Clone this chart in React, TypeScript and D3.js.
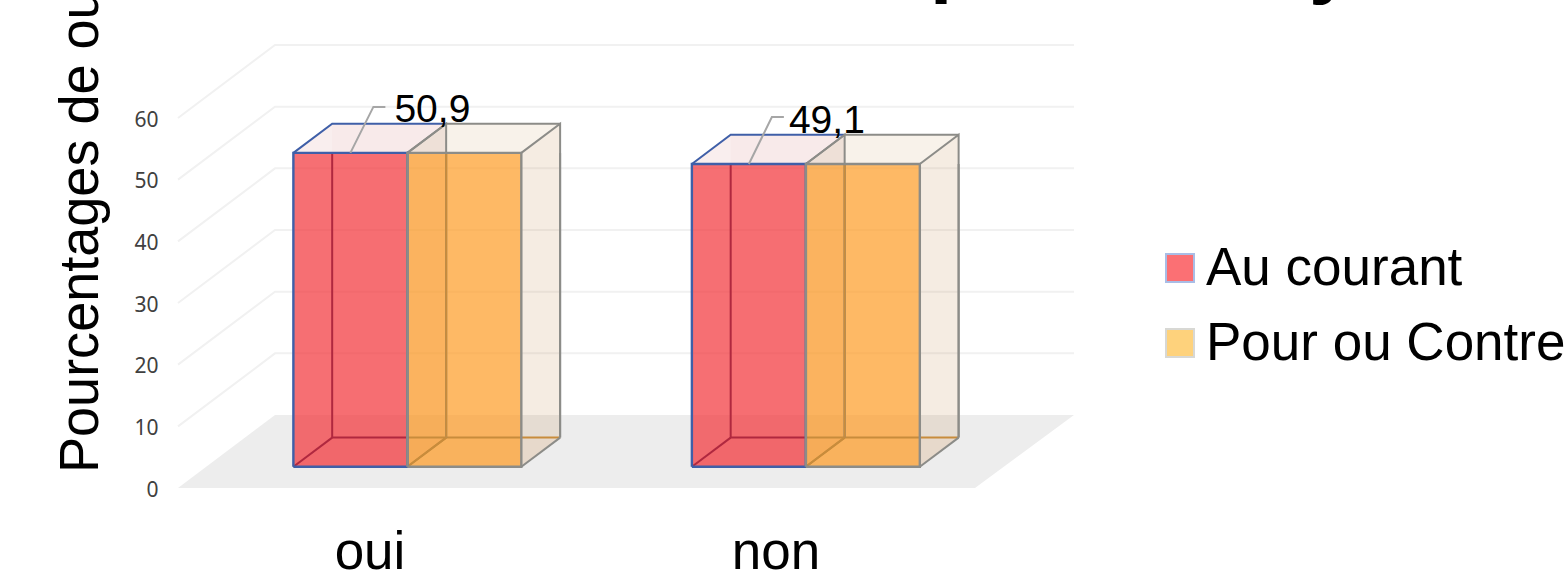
import React, { useEffect, useRef } from 'react'
import * as d3 from 'd3'

const categories = ['oui', 'non']
const seriesNames = ['Au courant', 'Pour ou Contre']
const auCourant = [50.9, 49.1]
const pourContre = [50.9, 49.1]
const yTicks = [0, 10, 20, 30, 40, 50, 60]
const dataLabels = ['50,9', '49,1']

const font = '"Liberation Sans", Arial, sans-serif'

const App = () => {
  const ref = useRef<SVGSVGElement>(null)

  useEffect(() => {
    draw()
  })

  const draw = () => {
    const svg = d3.select(ref.current)
    svg.selectAll('*').remove()

    // floor is a parallelogram, front edge 178-975, pushed back by (97,-73)
    const x = d3.scaleBand<string>().domain(categories).range([178, 975]).paddingInner(0.428).paddingOuter(0.214)
    const sub = d3.scaleBand<string>().domain(seriesNames).range([0, x.bandwidth()])
    const y = d3.scaleLinear().domain([0, 60]).range([0, 370])
    const depth = d3.scaleLinear().domain([0, 1]).range([0, 97])
    const rise = d3.scaleLinear().domain([0, 1]).range([488, 415])
    const labelX = d3.scalePoint<string>().domain(categories).range([370, 776])

    // project (horizontal px, value, depth 0-1) to the page
    const px = (h: number, d: number) => h + depth(d)
    const py = (v: number, d: number) => rise(d) - y(v)
    const line = (pts: [number, number, number][]) =>
      d3.line()(pts.map(([h, v, d]) => [px(h, d), py(v, d)] as [number, number]))!

    const backRight = 1074

    // floor
    svg.append('path')
      .attr('d', d3.line()([[178, 488], [975, 488], [backRight, 415], [275, 415]])! + 'Z')
      .attr('fill', '#ededed')

    // grid on back and side wall
    yTicks.filter((t) => t > 0).forEach((t) => {
      svg.append('path')
        .attr('d', d3.line()([[px(178, 0), py(t, 0)], [px(178, 1), py(t, 1)], [backRight, py(t, 1)]]))
        .attr('fill', 'none')
        .attr('stroke', '#f1f1f1')
        .attr('stroke-width', 2)
    })

    // y tick labels
    svg.append('g')
      .selectAll('text')
      .data(yTicks)
      .enter()
      .append('text')
      .attr('x', 158.5)
      .attr('y', (d) => py(d, 0) + 8.5)
      .attr('text-anchor', 'end')
      .attr('font-size', 21)
      .attr('font-family', '"Noto Sans", sans-serif')
      .attr('fill', '#404040')
      .text((d) => d)

    const d0 = 0.3
    const d1 = 0.7
    const styles = [
      { face: '#f2343a', tint: '#c04840', side: '#a87860', edge: '#3f5fa8', inner: '#b0283f' },
      { face: '#fd9c28', tint: '#b88840', side: '#b87840', edge: '#8c8c88', inner: '#c88c3c' },
    ]
    const seriesValues = [auCourant, pourContre]
    const grey = '#8c8c88'

    const bars = svg.append('g').attr('transform', 'translate(1,0.7)')

    const seg = (p: [number, number, number][], col: string, w = 2) =>
      bars.append('path')
        .attr('d', line(p))
        .attr('fill', 'none')
        .attr('stroke', col)
        .attr('stroke-width', w)

    // value on the back edge that sits level with the front top edge
    const levelWithFront = (v: number) => v - (rise(d0) - rise(d1)) / (y(1) - y(0))
    // how far a back corner moves sideways between front and back of a bar
    const backShift = depth(d1) - depth(d0)

    categories.forEach((c, ci) => {
      // glass faces, red first so the orange front tints what lies behind it
      ;[0, 1].forEach((si) => {
        const st = styles[si]
        const v = seriesValues[si][ci]
        const a = x(c)! + sub(seriesNames[si])!
        const b = a + sub.bandwidth()
        const faces: [[number, number, number][], string, number][] = [
          [[[a, 0, d1], [b, 0, d1], [b, v, d1], [a, v, d1]], st.tint, 0.02],
          [[[b, 0, d0], [b, 0, d1], [b, v, d1], [b, v, d0]], st.side, 0.13],
          [[[a, v, d0], [b, v, d0], [b, v, d1], [a, v, d1]], st.tint, 0.09],
          [[[a, 0, d0], [b, 0, d0], [b, 0, d1], [a, 0, d1]], st.face, 0.06],
          [[[a, 0, d0], [b, 0, d0], [b, v, d0], [a, v, d0]], st.face, 0.71],
        ]
        faces.forEach(([pts, fill, op]) => {
          bars.append('path').attr('d', line(pts) + 'Z').attr('fill', fill).attr('fill-opacity', op)
        })
      })

      ;[1, 0].forEach((si) => {
        const st = styles[si]
        const v = seriesValues[si][ci]
        const a = x(c)! + sub(seriesNames[si])!
        const b = a + sub.bandwidth()
        const behind = si === 0 ? styles[1].inner : grey
        // hidden edges, seen through the glass; the red ones turn orange behind the orange front
        seg([[a, levelWithFront(v), d1], [a, 0, d1], [b - backShift, 0, d1]], st.inner)
        seg([[b - backShift, 0, d1], [b, 0, d1]], si === 0 ? styles[1].inner : st.inner)
        seg([[a, 0, d0], [a, 0, d1]], st.inner)
        // visible edges
        seg([[a, v, d0], [a, v, d1], [b, v, d1]], st.edge)
        seg([[b, v, d0], [b, v, d1], [b, 0, d1]], grey)
        seg([[b, 0, d1], [b, levelWithFront(v), d1]], behind)
        seg([[b, 0, d0], [b, 0, d1]], behind)
      })

      // front outlines, orange last: the shared edge is grey
      ;[0, 1].forEach((si) => {
        const v = seriesValues[si][ci]
        const a = x(c)! + sub(seriesNames[si])!
        const b = a + sub.bandwidth()
        seg([[a, 0, d0], [b, 0, d0], [b, v, d0], [a, v, d0], [a, 0, d0]], styles[si].edge, 2.4)
      })

      // data label with its leader line
      const s = seriesNames[0]
      const v = auCourant[ci]
      const start = x(c)! + sub(s)! + 57
      const lx = px(start, d0) + 1
      const ly = py(v, d0) + 0.7
      const drop = ci === 0 ? 46 : 47
      svg.append('path')
        .attr('d', d3.line()([[lx, ly], [lx + 23, ly - drop], [lx + 35, ly - drop]]))
        .attr('fill', 'none')
        .attr('stroke', '#a6a6a6')
        .attr('stroke-width', 2)
      svg.append('text')
        .attr('x', lx + (ci === 0 ? 82 : 78))
        .attr('y', ly - 31)
        .attr('text-anchor', 'middle')
        .attr('font-size', 39)
        .attr('font-family', font)
        .attr('fill', '#000')
        .text(dataLabels[ci])

      // category label
      svg.append('text')
        .attr('x', labelX(c)!)
        .attr('y', 569)
        .attr('text-anchor', 'middle')
        .attr('font-size', 53)
        .attr('font-family', font)
        .attr('fill', '#000')
        .text(c)
    })

    // y axis title, cut by the top of the picture; the source is squeezed along its length
    svg.append('text')
      .attr('transform', 'translate(98,473) rotate(-90) scale(0.965,1)')
      .attr('font-size', 56)
      .attr('font-family', font)
      .attr('fill', '#000')
      .text('Pourcentages de oui')

    // what is left of the chart title above the picture: two descenders
    svg.append('text')
      .attr('x', 930).attr('y', -13)
      .attr('font-size', 80).attr('font-weight', 'bold')
      .attr('font-family', font)
      .text('p')
    svg.append('text')
      .attr('x', 1309).attr('y', -12)
      .attr('font-size', 80).attr('font-weight', 'bold')
      .attr('font-family', font)
      .text('y')

    // legend
    const legend = svg.append('g')
    seriesNames.forEach((n, i) => {
      const ly = 254 + i * 75
      legend.append('rect')
        .attr('x', 1166).attr('y', ly).attr('width', 28).attr('height', 28)
        .attr('fill', ['#fb7074', '#fed27c'][i])
        .attr('stroke', ['#a9bde6', '#d8d8d4'][i])
        .attr('stroke-width', 2)
      legend.append('text')
        .attr('x', 1206).attr('y', ly + 31)
        .attr('font-size', 53)
        .attr('font-family', font)
        .attr('fill', '#000')
        .text(n)
    })
  }

  return (
    <svg
      ref={ref}
      width={1566}
      height={573}
      style={{ position: 'absolute', left: 0, top: 0, background: '#fff' }}
    />
  )
}

export default App
